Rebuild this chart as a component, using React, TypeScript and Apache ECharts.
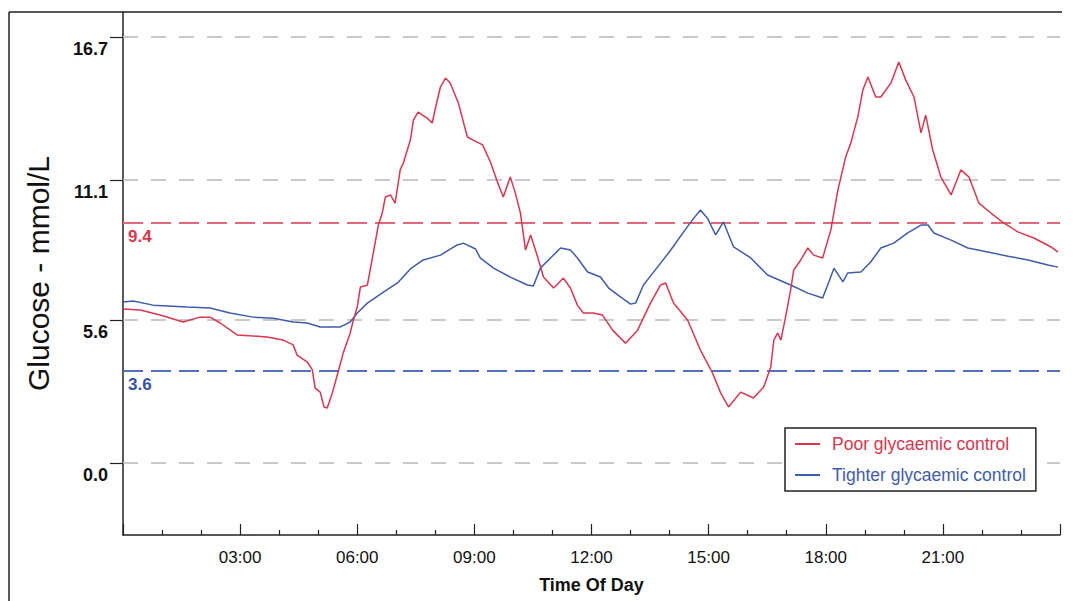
import React, { useEffect, useRef } from "react";
import * as echarts from "echarts";

// Time of day in hours (0–24) and glucose in mmol/L
const poorTime = [0, 0.44, 0.95, 1.54, 1.97, 2.23, 2.49, 2.92, 3.33, 3.69, 4.1, 4.36, 4.46, 4.72, 4.85, 4.92, 5.05, 5.15, 5.23, 5.36, 5.51, 5.64, 5.82, 5.9, 6.0, 6.08, 6.26, 6.41, 6.54, 6.64, 6.72, 6.85, 6.97, 7.1, 7.18, 7.36, 7.44, 7.56, 7.79, 7.92, 8.05, 8.13, 8.26, 8.38, 8.59, 8.82, 8.97, 9.21, 9.41, 9.59, 9.74, 9.92, 10.05, 10.18, 10.31, 10.44, 10.62, 10.77, 11.03, 11.28, 11.46, 11.64, 11.79, 12.05, 12.28, 12.54, 12.87, 13.18, 13.51, 13.77, 13.9, 14.1, 14.46, 14.79, 15.1, 15.31, 15.51, 15.82, 16.15, 16.41, 16.59, 16.67, 16.77, 16.85, 16.97, 17.1, 17.18, 17.36, 17.54, 17.69, 17.92, 18.13, 18.31, 18.51, 18.64, 18.82, 18.95, 19.08, 19.28, 19.41, 19.67, 19.87, 20.05, 20.26, 20.44, 20.56, 20.74, 20.95, 21.21, 21.46, 21.67, 21.92, 22.23, 22.56, 22.92, 23.33, 23.77, 23.95];
const poorGlucose = [6.04, 6.0, 5.8, 5.53, 5.72, 5.72, 5.49, 5.02, 4.98, 4.94, 4.82, 4.63, 4.23, 3.96, 3.65, 2.94, 2.78, 2.2, 2.16, 2.74, 3.57, 4.31, 5.1, 5.61, 6.12, 6.9, 6.98, 8.23, 9.33, 9.8, 10.43, 10.51, 10.19, 11.49, 11.76, 12.66, 13.45, 13.76, 13.52, 13.33, 14.23, 14.74, 15.09, 14.9, 14.11, 12.78, 12.66, 12.47, 11.8, 11.02, 10.43, 11.21, 10.58, 9.8, 8.35, 8.94, 8.08, 7.29, 6.86, 7.25, 6.86, 6.19, 5.88, 5.88, 5.8, 5.21, 4.7, 5.21, 6.27, 6.98, 7.06, 6.27, 5.61, 4.43, 3.53, 2.74, 2.2, 2.78, 2.55, 2.98, 3.76, 4.82, 5.1, 4.82, 5.72, 6.78, 7.57, 7.96, 8.43, 8.15, 8.04, 9.13, 10.7, 12.0, 12.54, 13.56, 14.62, 15.13, 14.35, 14.35, 14.9, 15.72, 15.01, 14.35, 12.94, 13.64, 12.27, 11.21, 10.51, 11.49, 11.21, 10.19, 9.8, 9.41, 9.06, 8.82, 8.47, 8.27];

const tightTime = [0, 0.26, 0.77, 1.64, 2.23, 2.74, 3.33, 3.85, 4.36, 4.72, 5.05, 5.56, 5.82, 6.0, 6.26, 6.67, 7.03, 7.36, 7.69, 8.13, 8.56, 8.72, 9.03, 9.15, 9.49, 9.92, 10.36, 10.51, 10.69, 10.95, 11.21, 11.46, 11.64, 11.9, 12.23, 12.44, 12.74, 13.0, 13.13, 13.33, 13.69, 14.03, 14.36, 14.62, 14.79, 14.97, 15.18, 15.38, 15.64, 16.08, 16.51, 17.1, 17.54, 17.92, 18.05, 18.21, 18.44, 18.56, 18.9, 19.15, 19.41, 19.74, 20.1, 20.44, 20.62, 20.77, 21.21, 21.64, 22.15, 22.67, 23.18, 23.69, 23.95];
const tightGlucose = [6.31, 6.35, 6.19, 6.12, 6.08, 5.88, 5.72, 5.68, 5.53, 5.49, 5.33, 5.33, 5.53, 5.88, 6.27, 6.7, 7.06, 7.61, 7.96, 8.15, 8.55, 8.62, 8.39, 8.04, 7.64, 7.29, 6.98, 6.94, 7.64, 8.04, 8.43, 8.35, 8.04, 7.49, 7.29, 6.86, 6.51, 6.23, 6.27, 6.98, 7.68, 8.35, 9.06, 9.6, 9.92, 9.6, 8.94, 9.45, 8.47, 8.04, 7.37, 6.98, 6.66, 6.47, 6.98, 7.64, 7.1, 7.45, 7.49, 7.88, 8.43, 8.62, 9.02, 9.33, 9.33, 9.02, 8.74, 8.43, 8.27, 8.11, 7.96, 7.76, 7.68];

const yTickValues = [0.0, 5.6, 11.1, 16.7];
const upperTarget = 9.4;
const lowerTarget = 3.6;
const seriesNames = ["Poor glycaemic control", "Tighter glycaemic control"];

const RED = "#d9364f";
const BLUE = "#3f5cab";
const FONT = "Liberation Sans, Arial, sans-serif";

export default function App() {
  const ref = useRef<HTMLDivElement>(null);
  useEffect(() => {
    if (!ref.current) return;
    const chart = echarts.init(ref.current, undefined, { renderer: "svg" });
    const poorData = poorTime.map((t, i) => [t, poorGlucose[i]]);
    const tightData = tightTime.map((t, i) => [t, tightGlucose[i]]);
    const gridLines = yTickValues.map((v) => ({
      yAxis: v,
      lineStyle: { color: "#b8b8b8", type: [15, 13], width: 1.5 },
      label: { show: false },
    }));
    chart.setOption({
      animation: false,
      backgroundColor: "#ffffff",
      textStyle: { fontFamily: FONT },
      grid: { left: 123, top: 12, right: 16, bottom: 66, containLabel: false },
      xAxis: {
        type: "value",
        min: 0,
        max: 24,
        interval: 3,
        name: "Time Of Day",
        nameLocation: "middle",
        nameGap: 41,
        nameTextStyle: { fontSize: 18, fontWeight: "bold", color: "#111", fontFamily: FONT },
        axisLine: { show: true, onZero: false, lineStyle: { color: "#222", width: 1.5 } },
        axisTick: { show: true, inside: true, length: 11, lineStyle: { color: "#222", width: 1.2 } },
        minorTick: { show: true, splitNumber: 3, length: 5, lineStyle: { color: "#222", width: 1.2 } },
        splitLine: { show: false },
        axisLabel: {
          showMinLabel: false,
          showMaxLabel: false,
          margin: 14,
          fontSize: 17,
          color: "#111",
          fontFamily: FONT,
          formatter: (v: number) => (v < 10 ? "0" + v : "" + v) + ":00",
        },
      },
      yAxis: {
        type: "value",
        min: -2.82,
        max: 17.68,
        name: "Glucose - mmol/L",
        nameLocation: "middle",
        nameGap: 70,
        nameRotate: 90,
        nameTextStyle: { fontSize: 30, color: "#111", fontFamily: FONT },
        axisLine: { show: true, onZero: false, lineStyle: { color: "#222", width: 1.5 } },
        axisTick: { show: true, length: 13, customValues: yTickValues, lineStyle: { color: "#222", width: 1.2 } },
        splitLine: { show: false },
        axisLabel: {
          customValues: yTickValues,
          margin: 15,
          fontSize: 18,
          fontWeight: "bold",
          color: "#111",
          fontFamily: FONT,
          verticalAlign: "top",
          padding: [3, 0, 0, 0],
          formatter: (v: number) => v.toFixed(1),
        },
      },
      legend: {
        orient: "vertical",
        left: 785,
        top: 428,
        padding: [7, 10, 7, 10],
        itemGap: 13,
        itemWidth: 25,
        itemHeight: 2,
        icon: "rect",
        borderColor: "#222",
        borderWidth: 1.5,
        backgroundColor: "#fff",
        data: [
          { name: seriesNames[0], textStyle: { color: RED } },
          { name: seriesNames[1], textStyle: { color: BLUE } },
        ],
        textStyle: { fontSize: 17.5, fontFamily: FONT, padding: [0, 0, 0, 7] },
      },
      series: [
        {
          name: seriesNames[1],
          type: "line",
          data: tightData,
          symbol: "none",
          color: BLUE,
          lineStyle: { color: BLUE, width: 1.5 },
          z: 3,
          markLine: {
            silent: true,
            symbol: ["none", "none"],
            z: 1,
            data: [
              ...gridLines,
              {
                yAxis: lowerTarget,
                lineStyle: { color: "#5671bb", type: [20, 8], width: 1.8 },
                label: {
                  show: true,
                  position: "insideStartBottom",
                  formatter: lowerTarget.toFixed(1),
                  color: "#3553a8",
                  fontSize: 17,
                  fontWeight: "bold",
                  fontFamily: FONT,
                  distance: 5,
                },
              },
            ],
          },
        },
        {
          name: seriesNames[0],
          type: "line",
          data: poorData,
          symbol: "none",
          color: RED,
          lineStyle: { color: RED, width: 1.5 },
          z: 4,
          markLine: {
            silent: true,
            symbol: ["none", "none"],
            z: 1,
            data: [
              {
                yAxis: upperTarget,
                lineStyle: { color: "#e2677a", type: [20, 8], width: 1.8 },
                label: {
                  show: true,
                  position: "insideStartBottom",
                  formatter: upperTarget.toFixed(1),
                  color: "#d9364f",
                  fontSize: 17,
                  fontWeight: "bold",
                  fontFamily: FONT,
                  distance: 5,
                },
              },
            ],
          },
        },
      ],
      graphic: [
        { type: "line", shape: { x1: 9, y1: 12, x2: 9, y2: 601 }, style: { stroke: "#222", lineWidth: 1.5 } },
        { type: "line", shape: { x1: 9, y1: 12, x2: 1062, y2: 12 }, style: { stroke: "#222", lineWidth: 1.5 } },
      ],
    });
    return () => chart.dispose();
  }, []);
  return (
    <div
      ref={ref}
      style={{ position: "absolute", left: 0, top: 0, width: 1076, height: 601 }}
    />
  );
}
